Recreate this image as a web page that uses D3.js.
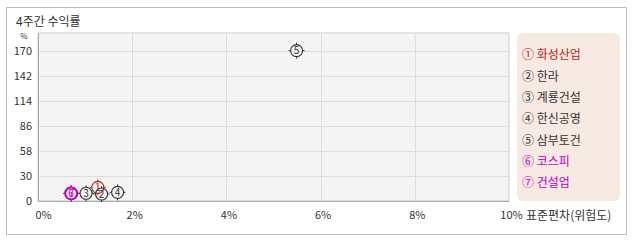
<!DOCTYPE html>
<html>
<head>
<meta charset="utf-8">
<title>4주간 수익률</title>
<script src="https://cdn.jsdelivr.net/npm/d3@7"></script>
<style>
  body { margin: 0; background: #fff; }
  text { font-family: "Noto Sans CJK KR", "Noto Sans", sans-serif; }
</style>
</head>
<body>
<div id="container"></div>
<script>
  // data
  var names = ["화성산업", "한라", "계룡건설", "한신공영", "삼부토건", "코스피", "건설업"];
  var marks = ["①", "②", "③", "④", "⑤", "⑥", "⑦"];
  var risk = [1.27, 1.35, 1.02, 1.69, 5.49, 0.70, 0.71];      // 표준편차 %
  var ret = [17.3, 9.8, 10.6, 11.7, 170.3, 10.6, 10.4];       // 수익률 %
  var colors = ["#b5251c", "#333333", "#333333", "#333333", "#333333", "#c000c0", "#c000c0"];
  var xTicks = [0, 2, 4, 6, 8, 10];
  var yTicks = [2, 30, 58, 86, 114, 142, 170];
  var yLabels = ["0", "30", "58", "86", "114", "142", "170"];

  var W = 638, H = 242;
  var plot = {left: 38, right: 509, top: 33, bottom: 201};

  var svg = d3.select("#container").append("svg")
    .attr("width", W).attr("height", H);

  // outer frame
  svg.append("rect")
    .attr("x", 6.5).attr("y", 7.5).attr("width", 620).attr("height", 227)
    .attr("fill", "#fff").attr("stroke", "#bdbdbd");

  svg.append("text")
    .attr("x", 16).attr("y", 26)
    .attr("font-size", 12).attr("fill", "#333")
    .text("4주간 수익률");

  var x = d3.scaleLinear().domain([0, 10]).range([plot.left, plot.right]);
  var y = d3.scaleLinear().domain([2, 190]).range([plot.bottom, plot.top]);

  svg.append("rect")
    .attr("x", plot.left).attr("y", plot.top)
    .attr("width", plot.right - plot.left).attr("height", plot.bottom - plot.top)
    .attr("fill", "#f4f4f4").attr("stroke", "#cfcfcf");

  // grid
  svg.append("g").selectAll("line").data(xTicks.slice(1, -1)).enter().append("line")
    .attr("x1", d => Math.round(x(d)) + 0.5).attr("x2", d => Math.round(x(d)) + 0.5)
    .attr("y1", plot.top).attr("y2", plot.bottom)
    .attr("stroke", "#dcdcdc");
  svg.append("g").selectAll("line").data(yTicks.slice(1)).enter().append("line")
    .attr("x1", plot.left).attr("x2", plot.right)
    .attr("y1", d => Math.round(y(d)) + 0.5).attr("y2", d => Math.round(y(d)) + 0.5)
    .attr("stroke", "#dcdcdc");

  // axis lines
  svg.append("line").attr("x1", plot.left + 0.5).attr("x2", plot.left + 0.5)
    .attr("y1", plot.top).attr("y2", plot.bottom).attr("stroke", "#a8a8a8");
  svg.append("line").attr("x1", plot.left).attr("x2", plot.right)
    .attr("y1", plot.bottom + 0.5).attr("y2", plot.bottom + 0.5).attr("stroke", "#a8a8a8");

  // axes via d3
  var xAxis = svg.append("g")
    .attr("transform", "translate(0," + (plot.bottom + 7) + ")")
    .call(d3.axisBottom(x).tickValues(xTicks).tickFormat(d => d + "%").tickSize(0));
  xAxis.select(".domain").remove();
  xAxis.selectAll("text").attr("font-size", 11).attr("fill", "#333")
    .attr("font-family", "\"Noto Sans CJK KR\", sans-serif")
    .attr("dx", (d, i) => i == 0 ? 5 : 2);

  svg.append("text")
    .attr("x", 526).attr("y", 220)
    .attr("font-size", 12).attr("fill", "#333")
    .text("표준편차(위험도)");

  var yAxis = svg.append("g")
    .attr("transform", "translate(" + (plot.left - 6) + ",0)")
    .call(d3.axisLeft(y).tickValues(yTicks).tickFormat((d, i) => yLabels[i]).tickSize(0).tickPadding(0));
  yAxis.select(".domain").remove();
  yAxis.selectAll("text").attr("font-size", 11).attr("fill", "#333")
    .attr("font-family", "\"Noto Sans CJK KR\", sans-serif");

  svg.append("text")
    .attr("x", 24).attr("y", 38.5).attr("text-anchor", "middle")
    .attr("font-size", 8).attr("fill", "#333")
    .text("%");

  // points
  var pts = svg.append("g").selectAll("g").data(names).enter().append("g")
    .attr("transform", (d, i) => "translate(" + x(risk[i]) + "," + y(ret[i]) + ")");
  pts.append("circle")
    .attr("r", 6)
    .attr("fill", "none")
    .attr("stroke", (d, i) => colors[i])
    .attr("stroke-width", (d, i) => i >= 5 ? 1.6 : 1.1);
  pts.selectAll("line").data((d, i) => [[0, -6, 0, -8, i], [0, 6, 0, 8, i], [-6, 0, -8, 0, i], [6, 0, 8, 0, i]])
    .enter().append("line")
    .attr("x1", d => d[0]).attr("y1", d => d[1])
    .attr("x2", d => d[2]).attr("y2", d => d[3])
    .attr("stroke", d => colors[d[4]]);
  pts.append("text")
    .attr("text-anchor", "middle").attr("dy", "0.36em")
    .attr("font-size", 10)
    .attr("fill", (d, i) => colors[i])
    .text((d, i) => String(i + 1));

  // legend
  svg.append("rect")
    .attr("x", 517).attr("y", 33).attr("width", 103).attr("height", 168)
    .attr("rx", 6).attr("fill", "#f6e9e2");
  var leg = d3.scaleLinear().domain([0, 6]).range([55, 183]);
  svg.append("g").selectAll("text").data(names).enter().append("text")
    .attr("x", 522).attr("y", (d, i) => leg(i)).attr("dy", "0.36em")
    .attr("font-size", 12)
    .attr("fill", (d, i) => colors[i])
    .text((d, i) => marks[i] + " " + d);
</script>
</body>
</html>
